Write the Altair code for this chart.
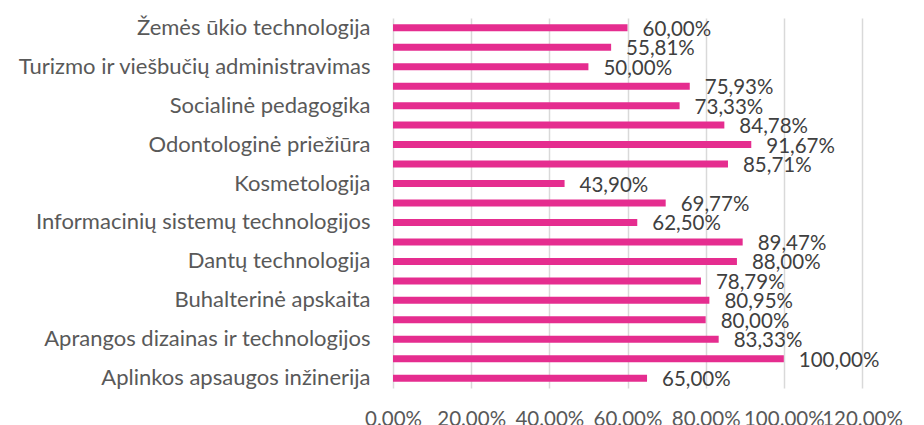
import altair as alt
import pandas as pd

# top to bottom
labels = [
    "Žemės ūkio technologija", "",
    "Turizmo ir viešbučių administravimas", "",
    "Socialinė pedagogika", "",
    "Odontologinė priežiūra", "",
    "Kosmetologija", "",
    "Informacinių sistemų technologijos", "",
    "Dantų technologija", "",
    "Buhalterinė apskaita", "",
    "Aprangos dizainas ir technologijos", "",
    "Aplinkos apsaugos inžinerija",
]
values = [60.00, 55.81, 50.00, 75.93, 73.33, 84.78, 91.67, 85.71, 43.90, 69.77,
          62.50, 89.47, 88.00, 78.79, 80.95, 80.00, 83.33, 100.00, 65.00]
x_ticks = [0, 20, 40, 60, 80, 100, 120]

df = pd.DataFrame({"idx": list(range(len(values))), "v": values})

label_array = "[" + ",".join("'" + s + "'" for s in labels) + "]"

FONT = "Lato"
PINK = "#E52D8F"

base = alt.Chart(df).transform_calculate(
    lbl="replace(format(datum.v, '.2f'), '.', ',') + '%'"
)

y_enc = alt.Y(
    "idx:O",
    sort="ascending",
    scale=alt.Scale(paddingInner=0.64, paddingOuter=0.32),
    axis=alt.Axis(
        title=None, domain=False, ticks=False, labelPadding=23,
        labelExpr=label_array + "[datum.value]",
        labelFont=FONT, labelFontSize=22, labelColor="#595959",
        labelLimit=500,
    ),
)

x_enc = alt.X(
    "v:Q",
    scale=alt.Scale(domain=[0, 120], nice=False),
    axis=alt.Axis(
        title=None, values=x_ticks, domain=False, ticks=False,
        labelExpr="format(datum.value, '.2f') + '%'",
        labelFont=FONT, labelFontSize=20.5, labelColor="#595959",
        labelPadding=21, grid=True, gridColor="#D9D9D9", gridWidth=1.5,
        labelOverlap=False, labelFlush=False, labelBound=False,
    ),
)

bars = base.mark_bar(color=PINK).encode(x=x_enc, y=y_enc)

text = base.mark_text(
    align="left", baseline="middle", dx=15, dy=2,
    font=FONT, fontSize=20.5, color="#404040",
).encode(x="v:Q", y=alt.Y("idx:O", sort="ascending"), text="lbl:N")

chart = (bars + text).properties(
    width=469, height=370,
    autosize=alt.AutoSizeParams(type="none"),
    padding={"left": 385, "top": 10, "right": 46, "bottom": 37},
).configure_view(stroke=None)

chart.save("out.html", embed_options={"renderer": "svg", "actions": False})
